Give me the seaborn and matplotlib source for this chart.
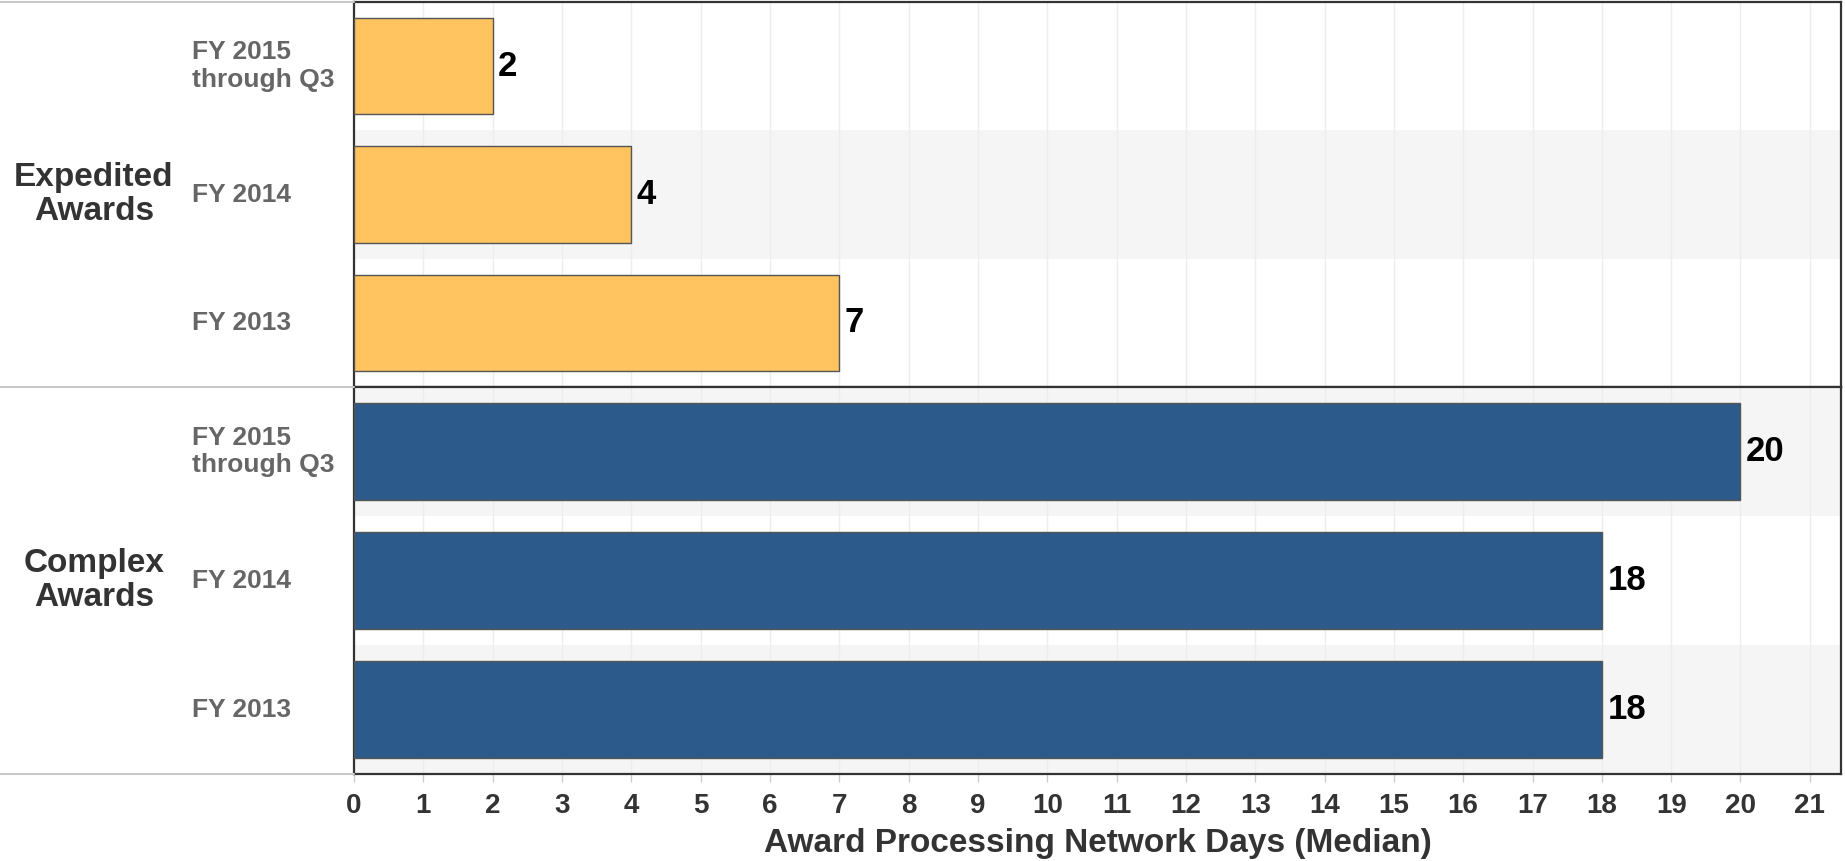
import matplotlib
matplotlib.use("Agg")
import matplotlib.pyplot as plt
import matplotlib.transforms as mtransforms
from matplotlib.lines import Line2D
import seaborn as sns
import pandas as pd

# ---- data ----
groups = ["Expedited\nAwards", "Complex\nAwards"]
periods = ["FY 2015\nthrough Q3", "FY 2014", "FY 2013"]
expedited_days = [2, 4, 7]
complex_days = [20, 18, 18]
x_ticks = list(range(0, 22))
x_label = "Award Processing Network Days (Median)"

group_values = [expedited_days, complex_days]
group_colors = ["#FFC35F", "#2C5A8B"]

sns.set_theme(style="white")
plt.rcParams["font.family"] = ["Liberation Sans", "DejaVu Sans"]

W, H, DPI = 1845, 861, 100
fig = plt.figure(figsize=(W / DPI, H / DPI), dpi=DPI)

left = 354 / W
right = 1841 / W
top = 1 - 2 / H
bottom = 1 - 774 / H
mid = 1 - 387 / H

axes = [
    fig.add_axes([left, mid, right - left, top - mid]),
    fig.add_axes([left, bottom, right - left, mid - bottom]),
]

band = "#F5F5F5"
for gi, (ax, vals, col) in enumerate(zip(axes, group_values, group_colors)):
    df = pd.DataFrame({"period": periods, "days": vals})
    # alternating background bands
    for ri in range(len(periods)):
        if (gi * len(periods) + ri) % 2 == 1:
            ax.axhspan(ri - 0.5, ri + 0.5, color=band, zorder=0, lw=0)
    sns.barplot(data=df, y="period", x="days", orient="h", color=col,
                width=0.75, edgecolor="#555555", linewidth=1.0,
                saturation=1, ax=ax, zorder=3)
    ax.set_xlim(0, 21.45)
    ax.set_ylim(len(periods) - 0.5, -0.5)
    ax.set_xticks(x_ticks)
    ax.grid(axis="x", color="#EDEDED", linewidth=1, zorder=1)
    ax.set_axisbelow(True)
    ax.set_ylabel("")
    ax.set_xlabel("")
    ax.set_yticks([])
    for s in ax.spines.values():
        s.set_color("#333333")
        s.set_linewidth(1.6)
        s.set_visible(True)
    for c in ax.containers:
        ax.bar_label(c, fmt="%d", padding=4, fontsize=25, fontweight="bold",
                     color="black")
    # row labels
    tr = mtransforms.blended_transform_factory(fig.transFigure, ax.transData)
    for ri, p in enumerate(periods):
        ax.text(192 / W, ri, p, transform=tr, ha="left", va="center",
                fontsize=19, fontweight="bold", color="#666666",
                linespacing=1.2)
    # group label
    ax.text(94 / W, 1, groups[gi], transform=tr, ha="center", va="center",
            fontsize=24, fontweight="bold", color="#333333", linespacing=1.15)

axes[0].tick_params(axis="x", bottom=False, labelbottom=False)
axes[1].tick_params(axis="x", bottom=True, length=6, width=1, color="#CCCCCC",
                    labelsize=20, labelcolor="#333333", pad=8)
for lab in axes[1].get_xticklabels():
    lab.set_fontweight("bold")
axes[1].set_xlabel(x_label, fontsize=24, fontweight="bold", color="#333333",
                   labelpad=6)

# gray separator lines in the label area
for yy in (top, mid, bottom):
    fig.add_artist(Line2D([0, left], [yy, yy], transform=fig.transFigure,
                          color="#C8C8C8", linewidth=1.5))

fig.savefig("out.png", dpi=DPI)
